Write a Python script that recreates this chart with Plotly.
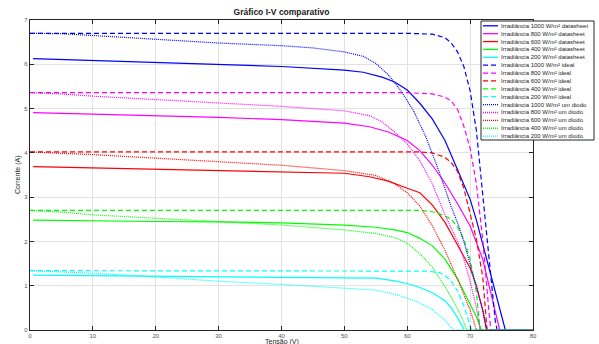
import plotly.graph_objects as go

# ---- I-V curves (voltage in V, current in A) ----
# Datasheet curves
V_DS_1000 = [0.5, 10, 20, 30, 40, 50, 53, 56, 58, 60, 62, 64, 66, 68, 70, 71, 72, 73, 74, 75, 75.6]
I_DS_1000 = [6.13, 6.09, 6.04, 5.99, 5.95, 5.87, 5.82, 5.71, 5.6, 5.42, 5.12, 4.76, 4.28, 3.62, 2.95, 2.48, 1.95, 1.42, 0.88, 0.34, 0.0]
V_DS_800 = [0.5, 10, 20, 30, 40, 50, 54, 57, 60, 62, 64, 66, 68, 70, 72, 73, 74, 74.7]
I_DS_800 = [4.91, 4.88, 4.84, 4.8, 4.75, 4.67, 4.59, 4.47, 4.28, 4.05, 3.72, 3.32, 2.85, 2.35, 1.6, 1.02, 0.42, 0.0]
V_DS_600 = [0.5, 10, 20, 30, 40, 50, 54, 57, 60, 62, 64, 66, 68, 70, 71, 72, 72.6]
I_DS_600 = [3.69, 3.66, 3.63, 3.6, 3.58, 3.54, 3.46, 3.36, 3.2, 3.1, 2.82, 2.43, 1.92, 1.4, 1.0, 0.45, 0.0]
V_DS_400 = [0.5, 10, 20, 30, 40, 50, 55, 58, 60, 62, 64, 66, 68, 70, 71, 71.8]
I_DS_400 = [2.48, 2.46, 2.45, 2.44, 2.42, 2.37, 2.32, 2.26, 2.2, 2.07, 1.9, 1.6, 1.15, 0.58, 0.3, 0.0]
V_DS_200 = [0.5, 10, 20, 30, 40, 50, 55, 58, 60, 62, 64, 66, 67, 68, 69]
I_DS_200 = [1.24, 1.23, 1.22, 1.21, 1.2, 1.19, 1.17, 1.11, 1.05, 0.96, 0.84, 0.66, 0.5, 0.28, 0.02]

# Ideal model
V_ID_1000 = [0, 60, 64, 66, 67, 68, 69, 70, 71, 72, 73, 74, 74.3, 80]
I_ID_1000 = [6.7, 6.7, 6.68, 6.6, 6.48, 6.28, 5.95, 5.4, 4.5, 3.1, 1.6, 0.2, 0, 0]
V_ID_800 = [0, 60, 64, 66, 67, 68, 69, 70, 71, 72, 73, 73.3, 80]
I_ID_800 = [5.36, 5.36, 5.33, 5.26, 5.17, 4.98, 4.6, 4.1, 3.3, 2.05, 0.4, 0, 0]
V_ID_600 = [0, 62, 64, 66, 67, 68, 69, 70, 71, 72, 72.7, 80]
I_ID_600 = [4.02, 4.02, 4.0, 3.9, 3.78, 3.58, 3.2, 2.62, 2.05, 1.2, 0, 0]
V_ID_400 = [0, 62, 64, 66, 67, 68, 69, 70, 71, 71.6, 80]
I_ID_400 = [2.7, 2.7, 2.67, 2.58, 2.5, 2.32, 2.05, 1.6, 0.85, 0, 0]
V_ID_200 = [0, 60, 63, 65, 66, 67, 68, 69, 70, 70.2, 80]
I_ID_200 = [1.34, 1.34, 1.33, 1.3, 1.23, 1.1, 0.88, 0.55, 0.08, 0, 0]

# One-diode model
V_OD_1000 = [0, 5, 10, 20, 30, 40, 45, 50, 53, 55, 57, 59, 61, 63, 65, 67, 68, 69, 70, 71, 72, 72.7, 80]
I_OD_1000 = [6.7, 6.69, 6.65, 6.56, 6.48, 6.42, 6.37, 6.28, 6.18, 6.02, 5.76, 5.4, 4.95, 4.35, 3.6, 2.78, 2.42, 2.0, 1.5, 1.0, 0.45, 0, 0]
V_OD_800 = [0, 5, 10, 20, 30, 40, 50, 54, 56, 58, 60, 62, 64, 66, 67, 68, 69, 70, 71, 71.6, 80]
I_OD_800 = [5.36, 5.33, 5.28, 5.2, 5.12, 5.05, 4.95, 4.84, 4.7, 4.47, 4.2, 3.82, 3.3, 2.6, 2.3, 2.0, 1.6, 1.1, 0.5, 0, 0]
V_OD_600 = [0, 5, 10, 20, 30, 40, 50, 55, 58, 60, 62, 64, 66, 68, 70, 71, 80]
I_OD_600 = [4.02, 3.99, 3.96, 3.88, 3.8, 3.72, 3.6, 3.49, 3.3, 3.1, 2.8, 2.35, 1.8, 1.15, 0.45, 0, 0]
V_OD_400 = [0, 5, 10, 20, 30, 40, 50, 55, 58, 60, 62, 64, 66, 68, 69, 69.5, 80]
I_OD_400 = [2.7, 2.66, 2.6, 2.52, 2.44, 2.37, 2.26, 2.18, 2.09, 1.96, 1.72, 1.42, 0.98, 0.48, 0.17, 0, 0]
V_OD_200 = [0, 5, 10, 20, 30, 40, 50, 55, 58, 60, 62, 64, 66, 67.3, 80]
I_OD_200 = [1.34, 1.31, 1.28, 1.2, 1.1, 1.03, 0.95, 0.9, 0.81, 0.72, 0.61, 0.46, 0.22, 0, 0]

IRRADIANCES = [1000, 800, 600, 400, 200]
COLORS = ["#0000ff", "#ff00ff", "#ff0000", "#00ff00", "#00ffff"]
X_TICKS = [0, 10, 20, 30, 40, 50, 60, 70, 80]
Y_TICKS = [0, 1, 2, 3, 4, 5, 6, 7]

MODELS = [
    ("datasheet", "solid", [(V_DS_1000, I_DS_1000), (V_DS_800, I_DS_800), (V_DS_600, I_DS_600),
                            (V_DS_400, I_DS_400), (V_DS_200, I_DS_200)]),
    ("ideal", "5px,3px", [(V_ID_1000, I_ID_1000), (V_ID_800, I_ID_800), (V_ID_600, I_ID_600),
                          (V_ID_400, I_ID_400), (V_ID_200, I_ID_200)]),
    ("um diodo", "1px,1px", [(V_OD_1000, I_OD_1000), (V_OD_800, I_OD_800), (V_OD_600, I_OD_600),
                             (V_OD_400, I_OD_400), (V_OD_200, I_OD_200)]),
]

FONT = "Liberation Sans, Arial, Helvetica, sans-serif"
AX_COLOR = "#262626"

W, H = 599, 344
ML, MR, MT, MB = 30, 66, 20, 14
PW, PH = W - ML - MR, H - MT - MB


def px_x(px):
    return (px - ML) / PW


def px_y(py):
    return (H - MB - py) / PH


fig = go.Figure()
entries = []
for model, dash, series in MODELS:
    for irr, color, (v, i) in zip(IRRADIANCES, COLORS, series):
        name = f"Irradiância {irr} W/m² {model}"
        fig.add_trace(go.Scatter(
            x=v, y=i, mode="lines", name=name, showlegend=False,
            line=dict(color=color, width=1.2, dash=dash),
        ))
        entries.append((name, color, dash))

# Legend box drawn as shapes + text
shapes = []
annotations = []
box_top, box_bot, box_l, box_r = 21, 140, 481, 594
shapes.append(dict(type="rect", xref="paper", yref="paper", layer="above",
                   x0=px_x(box_l), x1=px_x(box_r), y0=px_y(box_bot), y1=px_y(box_top),
                   fillcolor="white", line=dict(color=AX_COLOR, width=1)))
row0, step = 25.8, 7.88
for k, (name, color, dash) in enumerate(entries):
    yy = px_y(row0 + k * step)
    shapes.append(dict(type="line", xref="paper", yref="paper", layer="above",
                       x0=px_x(483), x1=px_x(498), y0=yy, y1=yy,
                       line=dict(color=color, width=1.3, dash=dash)))
    annotations.append(dict(text=name, xref="paper", yref="paper", x=px_x(499), y=yy,
                            xanchor="left", yanchor="middle", showarrow=False,
                            font=dict(family=FONT, size=6, color=AX_COLOR)))

# Axis titles
annotations.append(dict(text="Tensão (V)", xref="paper", yref="paper", x=0.5, y=px_y(342),
                        xanchor="center", yanchor="middle", showarrow=False,
                        font=dict(family=FONT, size=7, color=AX_COLOR)))
annotations.append(dict(text="Corrente (A)", xref="paper", yref="paper", x=px_x(18), y=0.5,
                        xanchor="center", yanchor="middle", showarrow=False, textangle=-90,
                        font=dict(family=FONT, size=7, color=AX_COLOR)))

axis_common = dict(
    showline=True, linecolor=AX_COLOR, linewidth=1.3, mirror="ticks",
    ticks="inside", ticklen=4, tickwidth=1, tickcolor=AX_COLOR,
    showgrid=True, gridcolor="#e2e2e2", gridwidth=1, zeroline=False,
    tickfont=dict(family=FONT, size=6, color="#555555"),
)

fig.update_layout(
    width=W, height=H,
    margin=dict(l=ML, r=MR, t=MT, b=MB, autoexpand=False),
    paper_bgcolor="white", plot_bgcolor="white",
    title=dict(text="<b>Gráfico I-V comparativo</b>", x=0.5, xref="paper",
               y=1 - 12 / H, yref="container", xanchor="center", yanchor="middle",
               font=dict(family=FONT, size=8.5, color="#1a1a1a")),
    xaxis=dict(range=[0, 80], tickvals=X_TICKS, automargin=False, **axis_common),
    yaxis=dict(range=[0, 7], tickvals=Y_TICKS, automargin=False, **axis_common),
    shapes=shapes,
    annotations=annotations,
    showlegend=False,
)

fig.write_html("out.html")
